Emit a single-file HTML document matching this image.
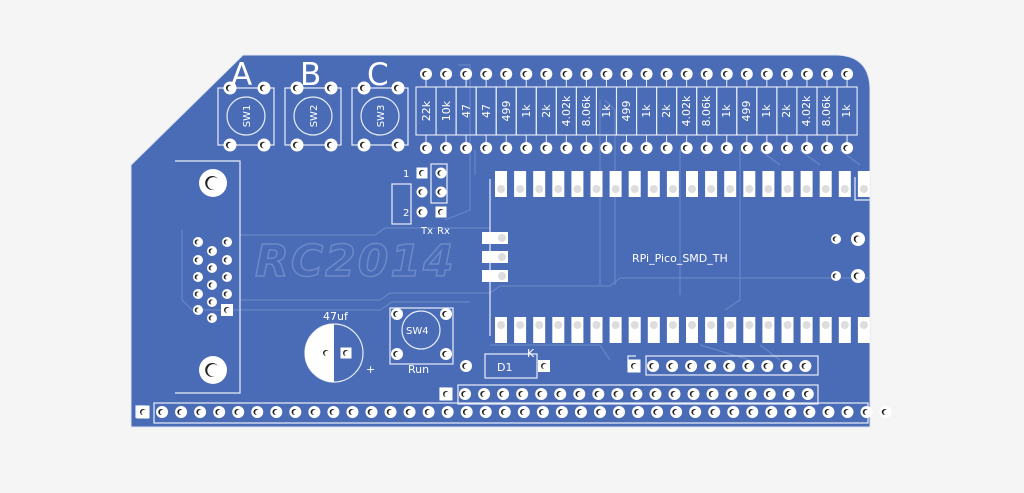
<!DOCTYPE html>
<html><head><meta charset="utf-8"><style>
html,body{margin:0;padding:0;background:#f5f5f5;}
svg{display:block;font-family:"DejaVu Sans","Liberation Sans",sans-serif;}
</style></head><body>
<svg id="s" width="1024" height="493" viewBox="0 0 1024 493" xmlns="http://www.w3.org/2000/svg">
<rect width="1024" height="493" fill="#f5f5f5"/>
<path d="M131,165 L243,55 L835,55 Q870,55 870,90 L870,427 L131,427 Z" fill="#4a6cb6" stroke="#dfe6f3" stroke-width="1"/>
<g id="traces" fill="none" stroke="#6f8dcb" stroke-width="1.2" opacity="0.8">
<path d="M182,230 L182,300 L192,310 L240,310 M240,235 L375,235 L385,228 L490,228"/>
<path d="M240,300 L380,300 L390,293 L490,293 L500,286 L610,286 L620,278 L870,278"/>
<path d="M240,310 L380,310 L392,302 L470,302"/>
<path d="M458,65 L470,65 L470,210 L445,220 M475,150 L475,175 M600,100 L600,285 M605,100 L615,110 L615,285"/>
<path d="M680,150 L680,295 M740,150 L740,300 L725,310 M760,150 L780,165 M800,150 L820,165 M840,150 L860,165"/>
<path d="M490,345 L600,345 L610,360 M700,345 L750,360 M760,345 L780,360"/>
</g>
<text x="255" y="276" font-size="44" font-weight="bold" font-style="italic" fill="none" stroke="#7b97d0" stroke-width="1.5" opacity="0.7" letter-spacing="2">RC2014</text>
<g fill="none" stroke="#e8eef8" stroke-width="1.2">
<rect x="218" y="88" width="56" height="57"/><circle cx="246" cy="116" r="19"/>
<rect x="285" y="88" width="56" height="57"/><circle cx="313" cy="116" r="19"/>
<rect x="352" y="88" width="56" height="57"/><circle cx="380" cy="116" r="19"/>
<path d="M175,161 L240,161 L240,393 L175,393"/>
<rect x="392" y="184" width="19" height="40"/><rect x="431" y="164" width="16" height="39"/>
<rect x="390" y="308" width="63" height="56"/><circle cx="421" cy="330" r="19"/>
<circle cx="334" cy="353" r="29"/>
<rect x="485" y="354" width="52" height="24"/>
<rect x="154" y="403" width="714" height="20"/>
<rect x="458" y="385" width="360" height="19"/>
<rect x="646" y="356" width="172" height="19"/>
<path d="M490,179 L490,336 M136,418 L136,406 L145,406 M440,400 L440,388 L448,388 M628,368 L628,356 L636,356 M855,177 L855,200 L872,200"/>
</g>
<path d="M334,324 A29,29 0 0 0 334,382 Z" fill="#fff"/>
<g fill="#fff" font-size="10">
<text x="421" y="234" font-size="10">Tx</text><text x="437" y="234" font-size="10">Rx</text>
<text x="403" y="177">1</text><text x="403" y="216">2</text>
<text x="323" y="320" font-size="11">47uf</text>
<text x="408" y="373" font-size="11">Run</text>
<text x="527" y="357" font-size="11">K</text>
<text x="632" y="262" font-size="11">RPi_Pico_SMD_TH</text>
<text x="366" y="373" font-size="11">+</text>
<text x="231" y="85" font-size="31">A</text>
<text x="300" y="85" font-size="31">B</text>
<text x="367" y="85" font-size="31">C</text>
<text x="497" y="371" font-size="11">D1</text>
<text x="406" y="334" font-size="10">SW4</text>
<text transform="translate(250,116) rotate(-90)" text-anchor="middle" font-size="10">SW1</text>
<text transform="translate(317,116) rotate(-90)" text-anchor="middle" font-size="10">SW2</text>
<text transform="translate(384,116) rotate(-90)" text-anchor="middle" font-size="10">SW3</text>
</g>
<g id="pads"></g>
<g fill="#fff" font-size="11" text-anchor="middle">
<text transform="translate(430,111) rotate(-90)">22k</text>
<text transform="translate(450,111) rotate(-90)">10k</text>
<text transform="translate(470,111) rotate(-90)">47</text>
<text transform="translate(490,111) rotate(-90)">47</text>
<text transform="translate(510,111) rotate(-90)">499</text>
<text transform="translate(530,111) rotate(-90)">1k</text>
<text transform="translate(550,111) rotate(-90)">2k</text>
<text transform="translate(570,111) rotate(-90)">4.02k</text>
<text transform="translate(590,111) rotate(-90)">8.06k</text>
<text transform="translate(610,111) rotate(-90)">1k</text>
<text transform="translate(630,111) rotate(-90)">499</text>
<text transform="translate(650,111) rotate(-90)">1k</text>
<text transform="translate(670,111) rotate(-90)">2k</text>
<text transform="translate(690,111) rotate(-90)">4.02k</text>
<text transform="translate(710,111) rotate(-90)">8.06k</text>
<text transform="translate(730,111) rotate(-90)">1k</text>
<text transform="translate(750,111) rotate(-90)">499</text>
<text transform="translate(770,111) rotate(-90)">1k</text>
<text transform="translate(790,111) rotate(-90)">2k</text>
<text transform="translate(810,111) rotate(-90)">4.02k</text>
<text transform="translate(830,111) rotate(-90)">8.06k</text>
<text transform="translate(850,111) rotate(-90)">1k</text>
</g>
</svg>
<script>
var g=document.getElementById('pads'),h='';
function pin(x,y,r){r=r||6;h+='<circle cx="'+x+'" cy="'+y+'" r="'+r+'" fill="#fff"/><circle cx="'+(x-0.8)+'" cy="'+y+'" r="'+(r*0.5)+'" fill="#222"/><circle cx="'+(x+0.6)+'" cy="'+(y+0.4)+'" r="'+(r*0.45)+'" fill="#fff"/>';}
function sq(x,y,s){s=s||13;h+='<rect x="'+(x-s/2)+'" y="'+(y-s/2)+'" width="'+s+'" height="'+s+'" fill="#fff"/><circle cx="'+x+'" cy="'+y+'" r="3" fill="#222"/><circle cx="'+(x+1)+'" cy="'+(y+0.5)+'" r="2.6" fill="#fff"/>';}
for(var i=0;i<22;i++){var x=426+i*20.05;h+='<line x1="'+x+'" y1="74" x2="'+x+'" y2="87" stroke="#e8eef8" stroke-width="1"/><line x1="'+x+'" y1="135" x2="'+x+'" y2="148" stroke="#e8eef8" stroke-width="1"/><rect x="'+(x-10)+'" y="87" width="20.05" height="48" fill="none" stroke="#e8eef8" stroke-width="1.1"/>';}
for(var i=0;i<22;i++){var x=426+i*20.05;pin(x,74);pin(x,148);}
[[230,88],[264,88],[230,145],[264,145],[297,88],[331,88],[297,145],[331,145],[364,88],[398,88],[364,145],[398,145]].forEach(function(p){pin(p[0],p[1],6.5);});
for(var i=0;i<20;i++){var x=495+i*19.1;h+='<rect x="'+x+'" y="171" width="12" height="26" fill="#fff"/>';h+='<rect x="'+x+'" y="317" width="12" height="26" fill="#fff"/>';h+='<circle cx="'+(x+6)+'" cy="189" r="4" fill="#ddd"/><circle cx="'+(x+6)+'" cy="325" r="4" fill="#ddd"/>';}
[232,251,270].forEach(function(y){h+='<rect x="482" y="'+y+'" width="26" height="12" fill="#fff"/><circle cx="502" cy="'+(y+6)+'" r="4" fill="#ddd"/>';});
sq(143,412);for(var i=1;i<=39;i++)pin(143+i*19.04,412);
sq(446,394);for(var i=1;i<=19;i++)pin(446+i*19.04,394);
sq(634,366);for(var i=1;i<=9;i++)pin(634+i*19.04,366);
sq(422,173,11);pin(441,173,5.5);pin(422,192,5.5);pin(441,192,5.5);pin(422,212,5.5);sq(441,212,11);
[242,260,277,294].forEach(function(y){pin(198,y,5);pin(227,y,5);});pin(198,310,5);sq(227,310,12);
[251,268,285,302,318].forEach(function(y){pin(212,y,5);});
pin(213,183,14);pin(213,370,14);
sq(326,353,13);sq(346,353,11);
pin(397,314,6);pin(446,314,6);pin(397,354,6);pin(446,354,6);
pin(466,366,6);sq(544,366,12);
pin(836,239,5);pin(858,239,7);pin(836,276,5);pin(858,276,7);
g.innerHTML=h;
</script>
</body></html>
